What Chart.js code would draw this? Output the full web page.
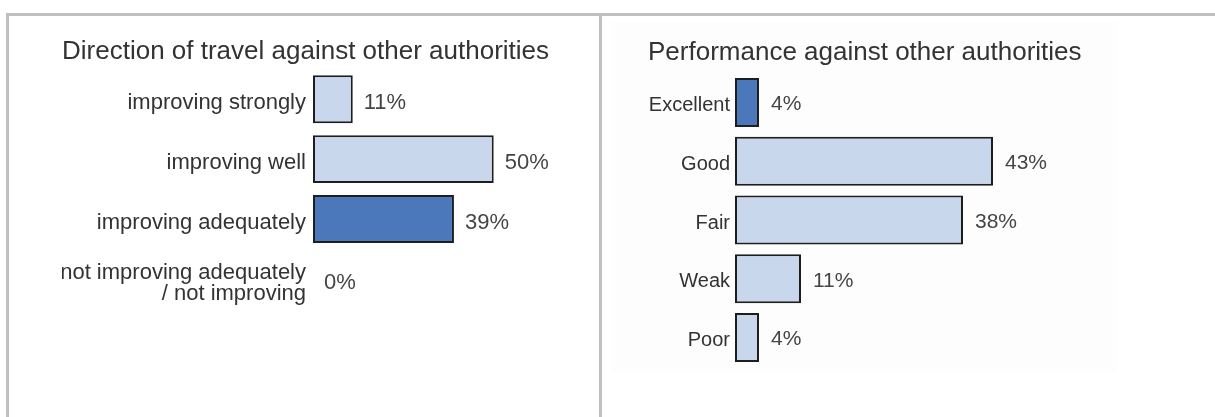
<!DOCTYPE html>
<html>
<head>
<meta charset="utf-8">
<script src="https://cdn.jsdelivr.net/npm/chart.js@4/dist/chart.umd.min.js"></script>
<style>
  html, body { margin: 0; padding: 0; background: #ffffff; }
  body { width: 1215px; height: 417px; position: relative; overflow: hidden; }
  .topline { position: absolute; left: 6px; top: 13px; width: 1209px; height: 3px; background: #c0c0c0; }
  .vline { position: absolute; top: 13px; width: 3px; height: 404px; background: #c0c0c0; }
  .shade { position: absolute; left: 612px; top: 22px; width: 505px; height: 350px; background: #fdfdfd; }
  .box { position: absolute; top: 16px; height: 401px; }
</style>
</head>
<body>
<div class="topline"></div>
<div class="vline" style="left:6px"></div>
<div class="vline" style="left:599px"></div>
<div class="shade"></div>
<div class="box" style="left:9px;width:590px"><canvas id="left"></canvas></div>
<div class="box" style="left:602px;width:613px"><canvas id="right"></canvas></div>
<script>
// ---- data ----
const leftTitle = "Direction of travel against other authorities";
const leftCategories = ["improving strongly", "improving well", "improving adequately", ["not improving adequately", "/ not improving"]];
const leftValues = [11, 50, 39, 0];

const rightTitle = "Performance against other authorities";
const rightCategories = ["Excellent", "Good", "Fair", "Weak", "Poor"];
const rightValues = [4, 43, 38, 11, 4];

// ---- styles ----
const LIGHT = "#c8d7eb";
const DARK = "#4a78bb";
const FONT = "'Liberation Sans', Arial, sans-serif";
const leftColors = [LIGHT, LIGHT, DARK, LIGHT];
const rightColors = [DARK, LIGHT, LIGHT, LIGHT, LIGHT];

const valueLabels = {
  id: 'valueLabels',
  afterDatasetsDraw(chart, args, opts) {
    const ctx = chart.ctx;
    const meta = chart.getDatasetMeta(0);
    const data = chart.data.datasets[0].data;
    ctx.save();
    ctx.fillStyle = opts.color;
    ctx.font = opts.size + "px " + FONT;
    ctx.textAlign = 'left';
    ctx.textBaseline = 'middle';
    meta.data.forEach((el, i) => {
      ctx.fillText(data[i] + "%", el.x + opts.gap, el.y + opts.dy);
    });
    ctx.restore();
  }
};

function makeChart(id, cfg) {
  return new Chart(document.getElementById(id), {
    type: 'bar',
    data: {
      labels: cfg.categories,
      datasets: [{
        data: cfg.values,
        backgroundColor: cfg.colors,
        borderColor: '#1e1e1e',
        borderWidth: (c) => (c.raw === 0 ? 0 : 2),
        borderSkipped: false,
        categoryPercentage: cfg.catPct,
        barPercentage: 1.0
      }]
    },
    options: {
      indexAxis: 'y',
      responsive: true,
      maintainAspectRatio: false,
      animation: false,
      layout: { padding: cfg.padding },
      plugins: {
        legend: { display: false },
        tooltip: { enabled: false },
        title: {
          display: true,
          text: cfg.title,
          align: 'start',
          color: '#333333',
          font: { family: FONT, size: cfg.titleSize, weight: 'normal', lineHeight: 1.2 },
          padding: cfg.titlePadding
        },
        valueLabels: { color: '#454545', size: cfg.valueSize, gap: cfg.gap, dy: cfg.valueDy }
      },
      scales: {
        x: { display: false, min: 0, max: cfg.max },
        y: {
          grid: { display: false, drawTicks: false },
          border: { display: false },
          ticks: {
            color: '#333333',
            padding: cfg.tickPad,
            labelOffset: cfg.labelOffset,
            font: { family: FONT, size: cfg.labelSize, lineHeight: 0.95 }
          },
          afterFit(scale) { scale.width = cfg.yWidth; }
        }
      }
    },
    plugins: [valueLabels]
  });
}

makeChart('left', {
  categories: leftCategories, values: leftValues, colors: leftColors,
  title: leftTitle, titleSize: 26, titlePadding: { top: 20, bottom: 2 },
  padding: { left: 53, right: 33, top: 0, bottom: 108 },
  yWidth: 251, max: 70, catPct: 0.8, labelSize: 22, valueSize: 22, gap: 11, tickPad: 7,
  labelOffset: 4, valueDy: 4
});

makeChart('right', {
  categories: rightCategories, values: rightValues, colors: rightColors,
  title: rightTitle, titleSize: 26, titlePadding: { top: 21, bottom: 5 },
  padding: { left: 46, right: 120, top: 0, bottom: 50 },
  yWidth: 87, max: 60, catPct: 0.834, labelSize: 20, valueSize: 21, gap: 12, tickPad: 5,
  labelOffset: 3, valueDy: 2
});
</script>
</body>
</html>
